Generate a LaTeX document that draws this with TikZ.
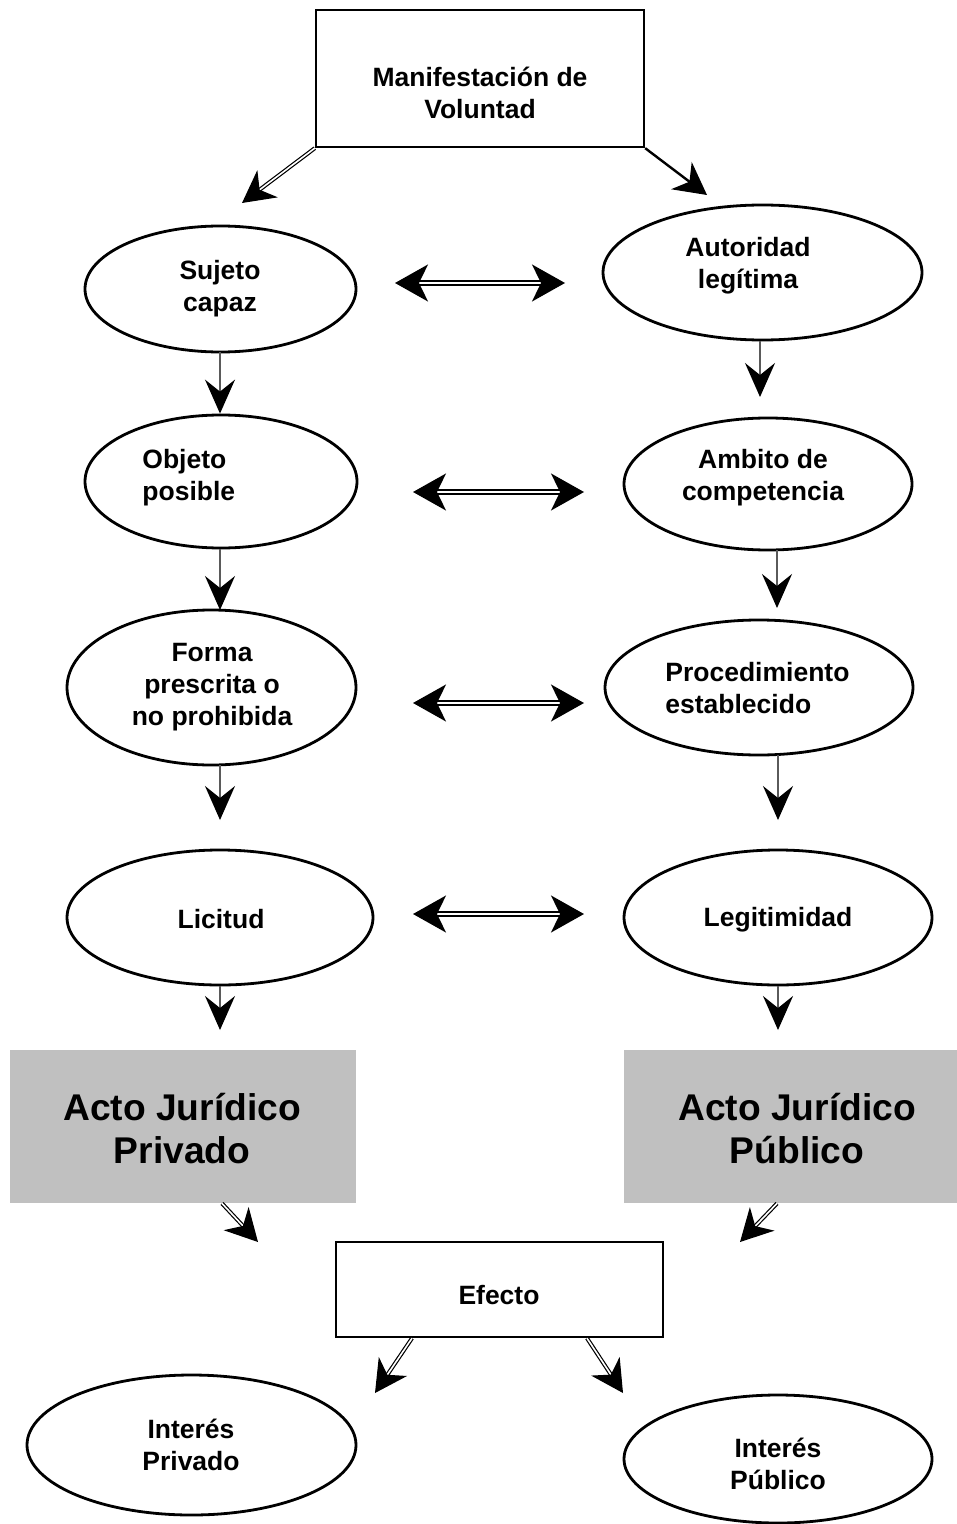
\documentclass[tikz,border=0pt]{standalone}
\usepackage{fontspec}
\setmainfont{Liberation Sans}
\usetikzlibrary{arrows.meta,calc,shapes.geometric}
\newdimen\pxu \pxu=0.5pt
\begin{document}
\begin{tikzpicture}[x=0.5pt,y=-0.5pt,
  txt/.style={font=\bfseries\fontsize{13.25}{16}\selectfont, align=center, inner sep=0pt},
  txtl/.style={font=\bfseries\fontsize{13.25}{16}\selectfont, align=left, inner sep=0pt},
  big/.style={font=\bfseries\fontsize{18.6}{21.5}\selectfont, align=center, inner sep=0pt},
  ell/.style={draw, ellipse, line width=1.4pt, inner sep=0pt},
  rbox/.style={draw, line width=1.2pt, inner sep=0pt},
  gbox/.style={fill={rgb,255:red,192;green,192;blue,192}, inner sep=0pt},
  tipA/.style={-{Stealth[length=16pt,width=17pt,inset=5pt,color=black]}},
  tipB/.style={{Stealth[length=16.5pt,width=18.5pt,inset=4.5pt]}-{Stealth[length=16.5pt,width=18.5pt,inset=4.5pt]}},
  dbl/.style={draw=black, double=white, line width=0.9pt, double distance=1.3pt},
  dbls/.style={draw=black, double=white, line width=0.6pt, double distance=0.8pt},
  thin/.style={draw={rgb,255:red,90;green,90;blue,90}, line width=1pt},
  vtip/.style={-{Stealth[length=17pt,width=15pt,inset=6pt,color=black]}},
]
\useasboundingbox (0,0) rectangle (957,1524);
% shapes
\node[rbox, minimum width=328\pxu, minimum height=137\pxu] (top) at (480,78.5) {};
\node[ell, minimum width=271\pxu, minimum height=126\pxu] (suj) at (220.5,289) {};
\node[ell, minimum width=319\pxu, minimum height=135\pxu] (aut) at (762.5,272.5) {};
\node[ell, minimum width=272\pxu, minimum height=133\pxu] (obj) at (221,481.5) {};
\node[ell, minimum width=288\pxu, minimum height=132\pxu] (amb) at (768,484) {};
\node[ell, minimum width=289\pxu, minimum height=155\pxu] (for) at (211.5,687.5) {};
\node[ell, minimum width=308\pxu, minimum height=135\pxu] (pro) at (759,687.5) {};
\node[ell, minimum width=306\pxu, minimum height=135\pxu] (lic) at (220,917.5) {};
\node[ell, minimum width=308\pxu, minimum height=135\pxu] (leg) at (778,917.5) {};
\node[gbox, minimum width=346\pxu, minimum height=153\pxu] (apr) at (183,1126.5) {};
\node[gbox, minimum width=333\pxu, minimum height=153\pxu] (apu) at (790.5,1126.5) {};
\node[rbox, minimum width=327\pxu, minimum height=95\pxu] (efe) at (499.5,1289.5) {};
\node[ell, minimum width=329\pxu, minimum height=140\pxu] (ipr) at (191.5,1445) {};
\node[ell, minimum width=308\pxu, minimum height=128\pxu] (ipu) at (778,1459) {};
% texts
\node[txt] (ttop) at (480,93) {Manifestación de\\Voluntad};
\node[txt] (tsuj) at (220,289) {Sujeto\\capaz};
\node[txt] (taut) at (748,266) {Autoridad\\legítima};
\node[txtl, anchor=west] (tobj) at (142,478) {Objeto\\posible};
\node[txt] (tamb) at (763,478) {Ambito de\\competencia};
\node[txt] (tfor) at (212,687) {Forma\\prescrita o\\no prohibida};
\node[txtl, anchor=west] (tpro) at (665,688) {Procedimiento\\establecido};
\node[txt] (tlic) at (221,919) {Licitud};
\node[txt] (tleg) at (778,920) {Legitimidad};
\node[big] (tapr) at (182,1129) {Acto Jurídico\\Privado};
\node[big] (tapu) at (797,1129) {Acto Jurídico\\Público};
\node[txt] (tefe) at (499,1295) {Efecto};
\node[txt] (tipr) at (191,1445) {Interés\\Privado};
\node[txt] (tipu) at (778,1464) {Interés\\Público};
% free-end coordinates
\coordinate (c1) at (242,203);
\coordinate (c2) at (707,195);
\coordinate (c3) at (258,1242);
\coordinate (c4) at (740,1242);
\coordinate (c5) at (375,1393);
\coordinate (c6) at (623,1393);
% top diagonals
\draw[dbls, tipA] (top.south west) -- (c1);
\draw[line width=1.2pt, tipA] (top.south east) -- (c2);
% horizontal double arrows
\draw[dbl, tipB] (395,283) coordinate (h1a) -- (565,283) coordinate (h1b);
\draw[dbl, tipB] (413,492) coordinate (h2a) -- (584,492) coordinate (h2b);
\draw[dbl, tipB] (413,703) coordinate (h3a) -- (584,703) coordinate (h3b);
\draw[dbl, tipB] (413,914) coordinate (h4a) -- (584,914) coordinate (h4b);
% vertical arrows
\draw[thin, vtip] (220,352) -- (obj.north -| 220,0);
\draw[thin, vtip] (obj.south -| 220,0) -- (220,610);
\draw[thin, vtip] (220,765) -- (220,820);
\draw[thin, vtip] (lic.south) -- (220,1030);
\draw[thin, vtip] (aut.south -| 760,0) -- (760,397);
\draw[thin, vtip] (777,550) -- (777,608);
\draw[thin, vtip] (778,755) -- (778,820);
\draw[thin, vtip] (leg.south) -- (778,1030);
% bottom arrows
\draw[dbls, tipA] (apr.south -| 222,0) -- (c3);
\draw[dbls, tipA] (apu.south -| 777,0) -- (c4);
\draw[dbls, tipA] (efe.south -| 412,0) -- (c5);
\draw[dbls, tipA] (efe.south -| 587,0) -- (c6);
\end{tikzpicture}
\end{document}
